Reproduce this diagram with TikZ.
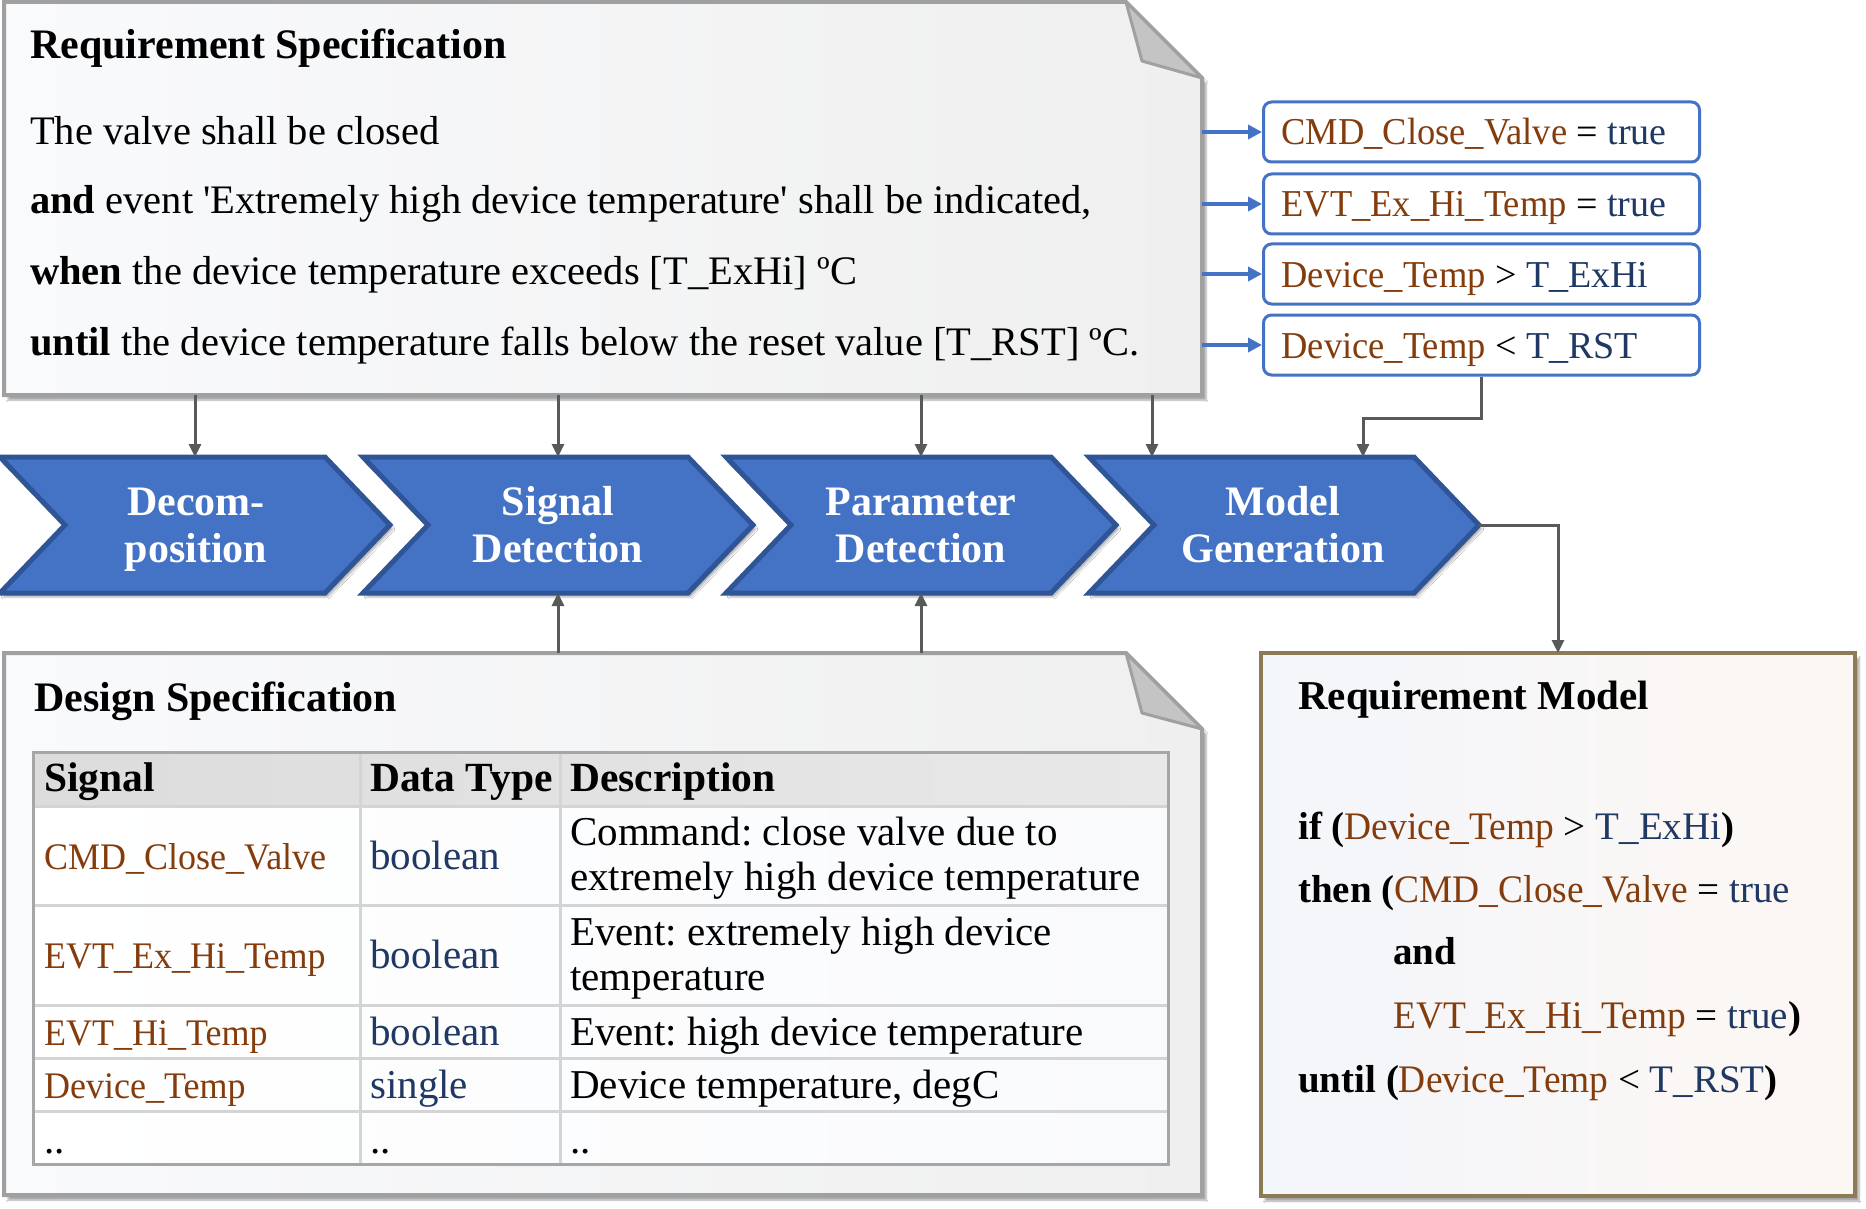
\documentclass[tikz,border=0pt]{standalone}
\usepackage{fontspec}
\setmainfont{Liberation Serif}
\newfontfamily\idf[FakeStretch=0.96]{Liberation Serif}
\usetikzlibrary{arrows.meta,shadows.blur,calc}
\definecolor{brn}{HTML}{843C0C}
\definecolor{dblue}{HTML}{1F3864}
\definecolor{chfill}{HTML}{4472C4}
\definecolor{chedge}{HTML}{2F5597}
\definecolor{bbd}{HTML}{4472C4}
\definecolor{notebd}{HTML}{A0A0A0}
\definecolor{foldc}{HTML}{C4C4C4}
\definecolor{noteL}{HTML}{F9FAFC}
\definecolor{noteR}{HTML}{EFEFEF}
\definecolor{arr}{HTML}{595959}
\definecolor{modelbd}{HTML}{8C7B55}
\definecolor{modelL}{HTML}{F3F6FB}
\definecolor{modelR}{HTML}{FDF7F3}
\definecolor{hdrL}{HTML}{DCDCDC}
\definecolor{hdrR}{HTML}{E8E8E8}
\definecolor{gridc}{HTML}{D4D4D4}
\definecolor{tblbd}{HTML}{A6A6A6}
\newcommand{\fsz}[1]{\fontsize{#1}{#1}\selectfont}
\newcommand{\idn}[1]{\textcolor{brn}{\idf #1}}
\newcommand{\vl}[1]{\textcolor{dblue}{#1}}
\frenchspacing
\begin{document}
\begin{tikzpicture}[x=1pt,y=-1pt,
  frame/.style={inner sep=0pt, outer sep=0pt, anchor=north west},
  notebody/.style={draw=notebd, line width=4pt, line join=miter, left color=noteL, right color=noteR,
    blur shadow={shadow xshift=4pt, shadow yshift=-5pt, shadow blur steps=6, shadow opacity=35}},
  fold/.style={draw=notebd, line width=3pt, fill=foldc, line join=round},
  chev/.style={draw=chedge, line width=5pt, fill=chfill, line join=miter,
    blur shadow={shadow xshift=3pt, shadow yshift=-4pt, shadow blur steps=5, shadow opacity=30}},
  chtxt/.style={inner sep=0pt, anchor=base, text=white, font=\fsz{42}\bfseries},
  txt/.style={inner sep=0pt, anchor=base west, font=\fsz{40.5}},
  ttl/.style={inner sep=0pt, anchor=base west, font=\fsz{42}\bfseries},
  tbl/.style={inner sep=0pt, anchor=base west, font=\fsz{41}},
  tid/.style={inner sep=0pt, anchor=base west, font=\fsz{37.5}},
  thd/.style={inner sep=0pt, anchor=base west, font=\fsz{41.5}\bfseries},
  mtxt/.style={inner sep=0pt, anchor=base west, font=\fsz{39}},
  bbox/.style={draw=bbd, line width=3pt, rounded corners=8pt, fill=white, anchor=west,
    minimum height=60pt, text width=400pt, inner xsep=18pt, inner ysep=0pt, align=flush left,
    text height=32pt, text depth=6pt, font=\fsz{38}},
  garr/.style={draw=arr, line width=3pt, -{Triangle[length=13pt,width=12pt]}},
  barr/.style={draw=bbd, line width=4pt, -{Triangle[length=14pt,width=14pt]}}
]
\useasboundingbox (0,0) rectangle (1866,1209);
\fill[white] (0,0) rectangle (1866,1209);

% ---------- Requirement Specification note ----------
\node[frame, minimum width=1198pt, minimum height=393pt] (rs) at (4,2) {};
\path[notebody] (rs.north west) -- ([xshift=-76pt]rs.north east) -- ([yshift=-76pt]rs.north east)
  -- (rs.south east) -- (rs.south west) -- cycle;
\path[fold] ([xshift=-76pt]rs.north east) -- ([xshift=-60pt,yshift=-59pt]rs.north east)
  -- ([yshift=-76pt]rs.north east) -- cycle;
\node[ttl] (rst) at (30,59) {Requirement Specification};
\node[txt] (rs1) at (30,145) {The valve shall be closed};
\node[txt] (rs2) at (30,214) {\textbf{and} event \textquotesingle Extremely high device temperature\textquotesingle\ shall be indicated,};
\node[txt] (rs3) at (30,284) {\textbf{when} the device temperature exceeds [T\_ExHi] ºC};
\node[txt] (rs4) at (30,355) {\textbf{until} the device temperature falls below the reset value [T\_RST] ºC.};

% ---------- blue condition boxes ----------
\node[bbox] (b1) at (1262,132) {\idn{CMD\_Close\_Valve} = \vl{true}};
\node[bbox] (b2) at (1262,204) {\idn{EVT\_Ex\_Hi\_Temp} = \vl{true}};
\node[bbox] (b3) at (1262,274) {\idn{Device\_Temp} > \vl{T\_ExHi}};
\node[bbox] (b4) at (1262,345) {\idn{Device\_Temp} < \vl{T\_RST}};
\foreach \b in {b1,b2,b3,b4} \draw[barr] (\b.west -| rs.east) -- (\b.west);

% ---------- chevrons ----------
\foreach \n/\x in {c1/0, c2/363, c3/726, c4/1089} {
  \node[frame, minimum width=390pt, minimum height=136pt] (\n) at (\x,457) {};
  \path[chev] (\n.north west) -- ([xshift=-65pt]\n.north east) -- (\n.east)
    -- ([xshift=-65pt]\n.south east) -- (\n.south west) -- ([xshift=65pt]\n.west) -- cycle;
}
\node[chtxt] (c1a) at (196,515) {Decom-};
\node[chtxt] (c1b) at (196,562) {position};
\node[chtxt] (c2a) at (558,515) {Signal};
\node[chtxt] (c2b) at (558,562) {Detection};
\node[chtxt] (c3a) at (921,515) {Parameter};
\node[chtxt] (c3b) at (921,562) {Detection};
\node[chtxt] (c4a) at (1283,515) {Model};
\node[chtxt] (c4b) at (1283,562) {Generation};

% ---------- connectors from requirement specification ----------
\coordinate (c4in) at ([xshift=-132pt]c4.north);
\coordinate (c4in2) at ([xshift=79pt]c4.north);
\draw[garr] (rs.south -| c1.north) -- (c1.north);
\draw[garr] (rs.south -| c2.north) -- (c2.north);
\draw[garr] (rs.south -| c3.north) -- (c3.north);
\draw[garr] (c4in |- rs.south) -- (c4in);
\draw[garr] (b4.south) -- ++(0,42) -| (c4in2);

% ---------- Design Specification note ----------
\node[frame, minimum width=1198pt, minimum height=542pt] (ds) at (4,653) {};
\path[notebody] (ds.north west) -- ([xshift=-76pt]ds.north east) -- ([yshift=-76pt]ds.north east)
  -- (ds.south east) -- (ds.south west) -- cycle;
\path[fold] ([xshift=-76pt]ds.north east) -- ([xshift=-60pt,yshift=-60pt]ds.north east)
  -- ([yshift=-76pt]ds.north east) -- cycle;
\node[ttl] (dst) at (34,711) {Design Specification};

% table
\shade[left color=hdrL, right color=hdrR] (33,752) rectangle (1168,806);
\shade[left color=white, right color=noteL] (33,806) rectangle (1168,1164);
\foreach \yy in {806,905,1005,1058,1111} \draw[gridc, line width=3pt] (33,\yy) -- (1168,\yy);
\foreach \xx in {360,560} \draw[gridc, line width=3pt] (\xx,752) -- (\xx,1164);
\draw[tblbd, line width=3pt] (33,752) rectangle (1168,1164);

\node[thd] (h1) at (44,791) {Signal};
\node[thd] (h2) at (370,791) {Data Type};
\node[thd] (h3) at (570,791) {Description};

\node[tid] (r1a) at (44,869) {\idn{CMD\_Close\_Valve}};
\node[tbl] (r1b) at (370,869) {\vl{boolean}};
\node[tbl] (r1c) at (570,845) {Command: close valve due to};
\node[tbl] (r1d) at (570,890) {extremely high device temperature};

\node[tid] (r2a) at (44,968) {\idn{EVT\_Ex\_Hi\_Temp}};
\node[tbl] (r2b) at (370,968) {\vl{boolean}};
\node[tbl] (r2c) at (570,945) {Event: extremely high device};
\node[tbl] (r2d) at (570,990) {temperature};

\node[tid] (r3a) at (44,1045) {\idn{EVT\_Hi\_Temp}};
\node[tbl] (r3b) at (370,1045) {\vl{boolean}};
\node[tbl] (r3c) at (570,1045) {Event: high device temperature};

\node[tid] (r4a) at (44,1098) {\idn{Device\_Temp}};
\node[tbl] (r4b) at (370,1098) {\vl{single}};
\node[tbl] (r4c) at (570,1098) {Device temperature, degC};

\node[tbl] (r5a) at (44,1153) {..};
\node[tbl] (r5b) at (370,1153) {..};
\node[tbl] (r5c) at (570,1153) {..};

\draw[garr] (ds.north -| c2.south) -- (c2.south);
\draw[garr] (ds.north -| c3.south) -- (c3.south);

% ---------- Requirement Model ----------
\node[frame, minimum width=594pt, minimum height=543pt, draw=modelbd, line width=4pt,
  left color=modelL, right color=modelR,
  blur shadow={shadow xshift=4pt, shadow yshift=-5pt, shadow blur steps=6, shadow opacity=35}] (rm) at (1261,653) {};
\node[ttl, font=\fsz{41}\bfseries] (rmt) at (1298,709) {Requirement Model};
\node[mtxt] (m1) at (1298,839) {\textbf{if (}\idn{Device\_Temp} > \vl{T\_ExHi}\textbf{)}};
\node[mtxt] (m2) at (1298,902) {\textbf{then (}\idn{CMD\_Close\_Valve} = \vl{true}};
\node[mtxt] (m3) at (1393,964) {\textbf{and}};
\node[mtxt] (m4) at (1393,1028) {\idn{EVT\_Ex\_Hi\_Temp} = \vl{true}\textbf{)}};
\node[mtxt] (m5) at (1298,1092) {\textbf{until (}\idn{Device\_Temp} < \vl{T\_RST}\textbf{)}};

\draw[garr] (c4.east) -| (rm.north);
\end{tikzpicture}
\end{document}
